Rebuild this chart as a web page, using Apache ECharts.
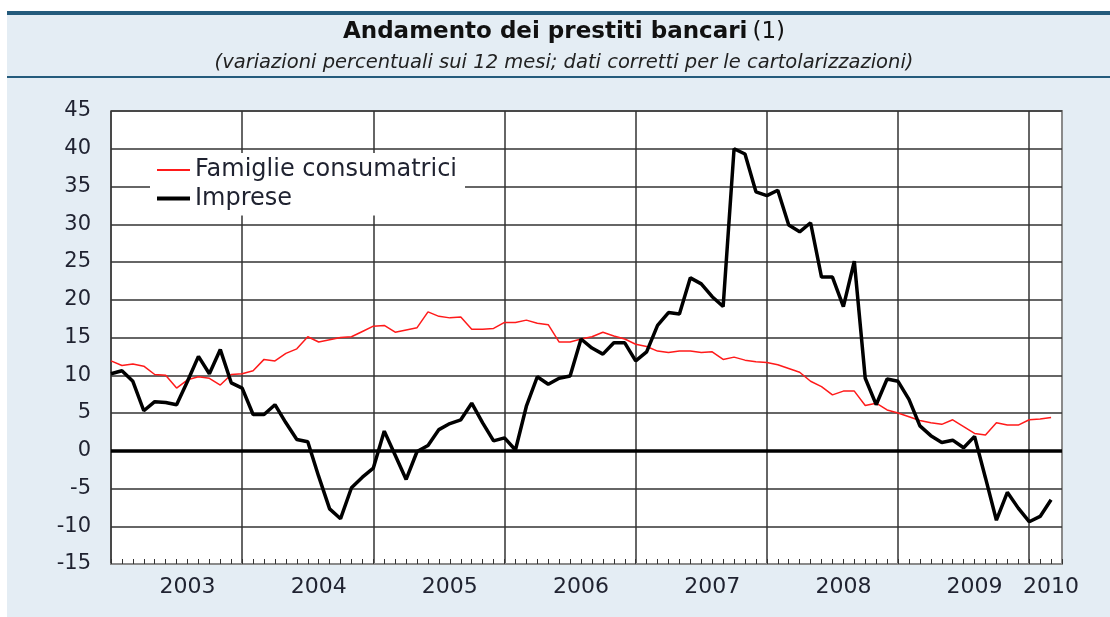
<!DOCTYPE html>
<html>
<head>
<meta charset="utf-8">
<script src="https://cdn.jsdelivr.net/npm/echarts@6/dist/echarts.min.js"></script>
<style>
  html, body { margin: 0; padding: 0; background: #ffffff; }
  #chart { width: 1110px; height: 617px; }
</style>
</head>
<body>
<div id="chart"></div>
<script>
// ---- Data ----
const years = ['2003', '2004', '2005', '2006', '2007', '2008', '2009', '2010'];
const monthsInLastYear = 4; // axis runs to the start of April 2010
const seriesNames = ['Famiglie consumatrici', 'Imprese'];

// Monthly 12-month % changes, Jan 2003 .. Mar 2010
const famiglie = [
  11.9, 11.3, 11.5, 11.2, 10.1, 10.0, 8.3, 9.4, 9.8, 9.6, 8.7, 10.1,
  10.2, 10.6, 12.1, 11.9, 12.9, 13.5, 15.1, 14.4, 14.7, 15.0, 15.1, 15.8,
  16.5, 16.6, 15.7, 16.0, 16.3, 18.4, 17.8, 17.6, 17.7, 16.1, 16.1, 16.2,
  17.0, 17.0, 17.3, 16.9, 16.7, 14.4, 14.4, 14.8, 15.1, 15.7, 15.2, 14.8,
  14.1, 13.8, 13.2, 13.0, 13.2, 13.2, 13.0, 13.1, 12.1, 12.4, 12.0, 11.8,
  11.7, 11.4, 10.9, 10.4, 9.2, 8.5, 7.4, 7.9, 7.9, 6.0, 6.3, 5.4,
  5.0, 4.5, 4.0, 3.7, 3.5, 4.1, 3.2, 2.3, 2.1, 3.7, 3.4, 3.4,
  4.1, 4.2, 4.4
];
const imprese = [
  10.2, 10.6, 9.2, 5.3, 6.5, 6.4, 6.1, 9.2, 12.5, 10.2, 13.4, 9.0,
  8.3, 4.8, 4.8, 6.1, 3.7, 1.5, 1.2, -3.4, -7.7, -9.0, -4.9, -3.5,
  -2.3, 2.6, -0.6, -3.8, -0.1, 0.7, 2.8, 3.6, 4.1, 6.3, 3.7, 1.3,
  1.7, 0.1, 5.9, 9.8, 8.8, 9.6, 9.9, 14.8, 13.6, 12.8, 14.3, 14.3,
  11.9, 13.1, 16.6, 18.3, 18.1, 22.9, 22.1, 20.4, 19.1, 40.0, 39.3, 34.3,
  33.8, 34.5, 29.9, 29.0, 30.2, 23.0, 23.0, 19.1, 25.1, 9.6, 6.1, 9.5,
  9.2, 6.8, 3.3, 2.0, 1.1, 1.4, 0.4, 1.9, -3.6, -9.2, -5.5, -7.6,
  -9.4, -8.7, -6.5
];
const yTicks = { min: -15, max: 45, interval: 5 };
const zeroLine = 0;

// categories: one per month
const categories = [];
years.forEach(function (y, yi) {
  const n = (yi === years.length - 1) ? monthsInLastYear : 12;
  for (let m = 1; m <= n; m++) categories.push(y + '-' + (m < 10 ? '0' + m : m));
});
const lastDataIndex = imprese.length - 1;

const FONT = 'DejaVu Sans';
const TXT = '#1f2230';

const chart = echarts.init(document.getElementById('chart'), null, { renderer: 'canvas' });
chart.setOption({
  animation: false,
  backgroundColor: '#ffffff',
  graphic: [
    { type: 'rect', z: -20, silent: true, shape: { x: 7, y: 11, width: 1103, height: 606 }, style: { fill: '#e4edf4' } },
    { type: 'rect', z: -19, silent: true, shape: { x: 7, y: 11, width: 1103, height: 4 }, style: { fill: '#245b7c' } },
    { type: 'rect', z: -19, silent: true, shape: { x: 7, y: 76, width: 1103, height: 2 }, style: { fill: '#245b7c' } }
  ],
  title: {
    text: '{b|Andamento dei prestiti bancari} {n|(1)}',
    subtext: '(variazioni percentuali sui 12 mesi; dati corretti per le cartolarizzazioni)',
    left: 564,
    top: 19,
    textAlign: 'center',
    itemGap: 7,
    padding: 0,
    textStyle: {
      lineHeight: 26,
      rich: {
        b: { fontFamily: FONT, fontWeight: 'bold', fontSize: 23, color: '#111', lineHeight: 26 },
        n: { fontFamily: FONT, fontWeight: 'normal', fontSize: 23, color: '#111', lineHeight: 26 }
      }
    },
    subtextStyle: { fontFamily: FONT, fontStyle: 'italic', fontSize: 19.5, color: '#222', lineHeight: 21 }
  },
  legend: {
    data: [
      { name: seriesNames[0], icon: 'path://M0,0H33V2H0Z' },
      { name: seriesNames[1], icon: 'path://M0,0H33V4H0Z' }
    ],
    orient: 'vertical',
    left: 150,
    top: 153,
    backgroundColor: '#ffffff',
    padding: [5, 8, 5, 7],
    itemWidth: 33,
    itemHeight: 24,
    itemGap: 4.5,
    textStyle: { fontFamily: FONT, fontSize: 24, color: TXT, lineHeight: 24 }
  },
  grid: {
    left: 111, right: 48, top: 111, bottom: 53,
    show: true, backgroundColor: '#ffffff', borderColor: '#8a8a8a', borderWidth: 2
  },
  xAxis: {
    type: 'category',
    data: categories,
    boundaryGap: false,
    axisLine: { show: true, onZero: false, lineStyle: { color: '#8a8a8a', width: 2 } },
    axisTick: { show: true, inside: true, length: 5, interval: 0, lineStyle: { color: '#333', width: 1 } },
    splitLine: {
      show: true,
      interval: function (i) { return i % 12 === 0; },
      lineStyle: { color: '#333', width: 1.5 }
    },
    axisLabel: {
      interval: function (i) { return i % 12 === 7 || i === lastDataIndex; },
      formatter: function (v) { return v.slice(0, 4); },
      fontFamily: FONT, fontSize: 22, color: TXT, margin: 12
    }
  },
  yAxis: {
    type: 'value',
    min: yTicks.min, max: yTicks.max, interval: yTicks.interval,
    axisLine: { show: false },
    axisTick: { show: false },
    splitLine: { show: true, lineStyle: { color: '#333', width: 1.5 } },
    axisLabel: { fontFamily: FONT, fontSize: 21, color: TXT, margin: 20 }
  },
  series: [
    {
      name: seriesNames[0], type: 'line', data: famiglie, symbol: 'none',
      lineStyle: { color: '#ff1a1a', width: 1.5 }, itemStyle: { color: '#ff1a1a' },
      markLine: {
        silent: true, symbol: 'none', label: { show: false },
        lineStyle: { color: '#000', width: 3.5, type: 'solid' },
        data: [{ yAxis: zeroLine }]
      }
    },
    {
      name: seriesNames[1], type: 'line', data: imprese, symbol: 'none',
      lineStyle: { color: '#000000', width: 3.5 }, itemStyle: { color: '#000000' }
    }
  ]
});
</script>
</body>
</html>
